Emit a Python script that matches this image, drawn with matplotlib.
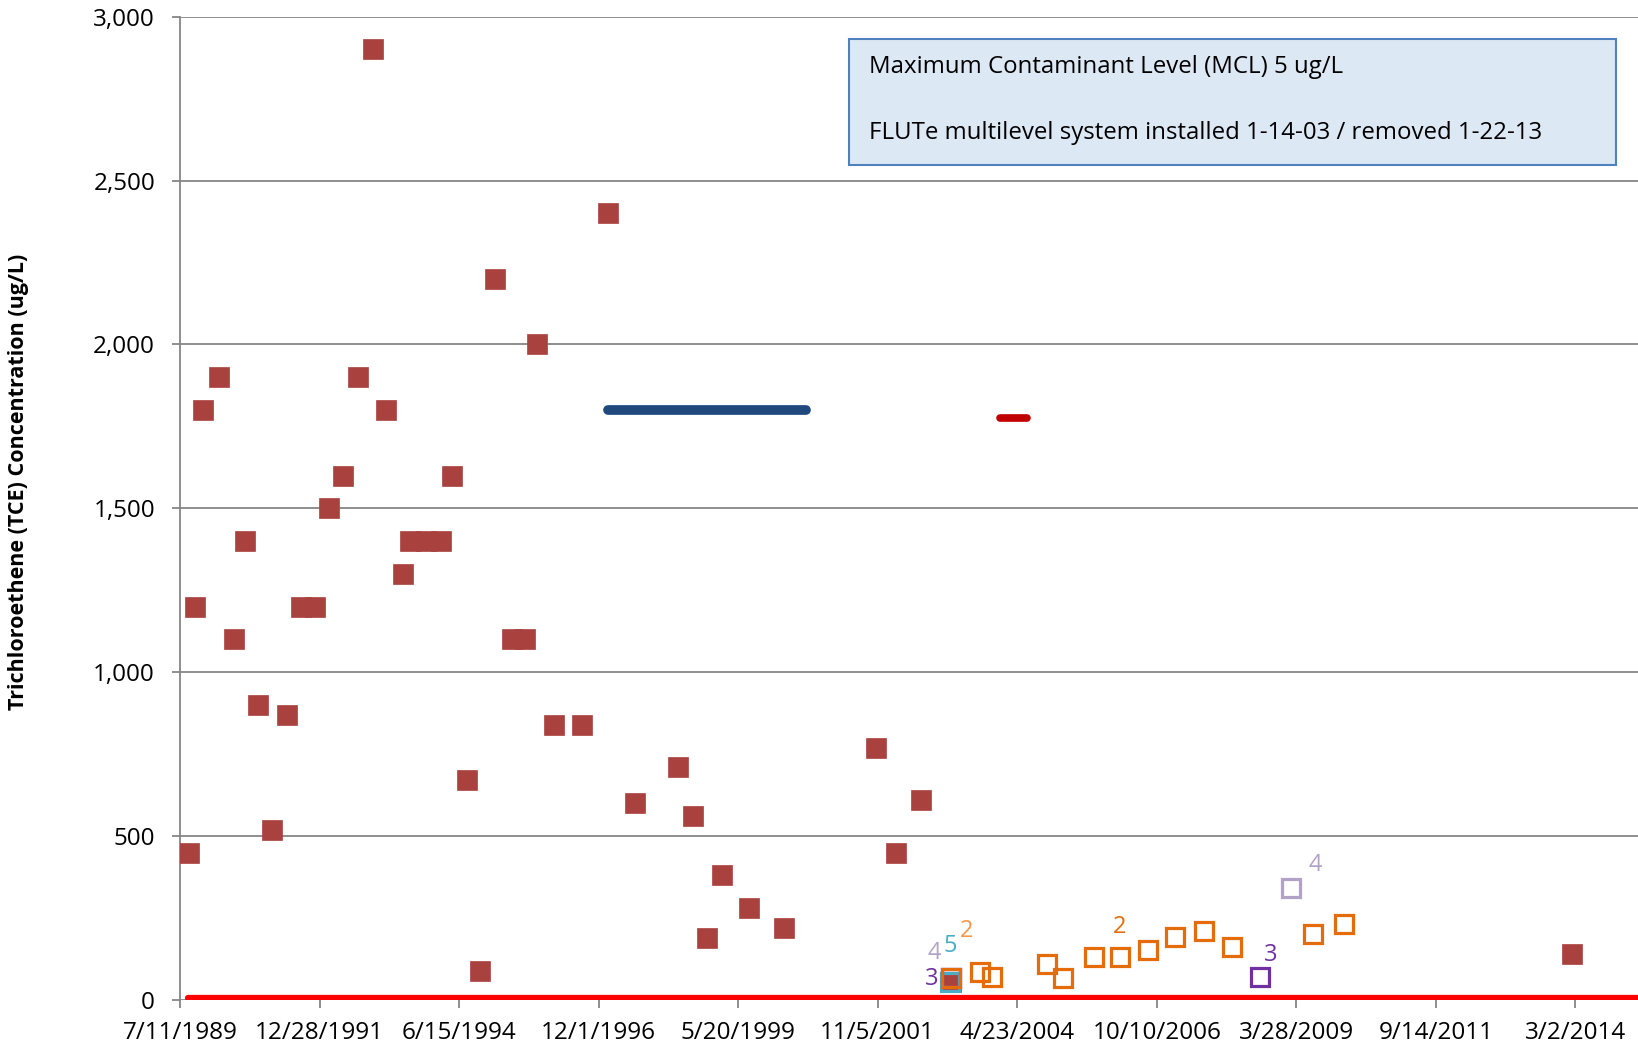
import pandas as pd
import matplotlib
matplotlib.use('Agg')
import matplotlib.pyplot as plt
import matplotlib.dates as mdates
from matplotlib.patches import Rectangle
from matplotlib.ticker import FuncFormatter

plt.rcParams['font.family'] = ['Open Sans', 'DejaVu Sans']

# TCE samples (filled squares)
tce_dates = ['1989-09-05', '1989-10-15', '1989-12-08', '1990-03-20', '1990-06-22', '1990-09-04',
             '1990-11-24', '1991-02-26', '1991-06-01', '1991-08-28', '1991-11-30', '1992-02-26',
             '1992-05-30', '1992-09-02', '1992-12-05', '1993-03-03', '1993-06-18', '1993-08-05',
             '1993-11-14', '1994-02-16', '1994-05-01', '1994-08-04', '1994-10-31', '1995-02-02',
             '1995-05-21', '1995-08-17', '1995-10-30', '1996-02-15', '1996-08-15', '1997-01-30',
             '1997-07-25', '1998-04-27', '1998-07-31', '1998-11-02', '1999-02-04', '1999-07-30',
             '2000-03-08', '2001-10-23', '2002-02-28', '2002-08-09', '2003-02-21', '2014-02-08']
tce_values = [450, 1200, 1800, 1900, 1100, 1400,
              900, 520, 870, 1200, 1200, 1500,
              1600, 1900, 2900, 1800, 1300, 1400,
              1400, 1400, 1600, 670, 90, 2200,
              1100, 1100, 2000, 840, 840, 2400,
              600, 710, 560, 190, 380, 280,
              220, 770, 450, 610, 55, 140]

# FLUTe ports (open squares)
port2_dates = ['2003-02-21', '2003-08-27', '2003-11-15', '2004-11-04', '2005-02-15', '2005-08-30',
               '2006-02-13', '2006-08-13', '2007-02-06', '2007-08-08', '2008-02-05', '2009-07-16',
               '2010-02-01']
port2_values = [68, 86, 69, 111, 67, 131, 131, 152, 191, 211, 162, 200, 231]
port3_dates = ['2003-02-21', '2008-08-05']
port3_values = [67, 69]
port4_dates = ['2003-02-21', '2009-02-24']
port4_values = [67, 341]
port5_dates = ['2003-02-15']
port5_values = [56]

# horizontal segments
blue_dates = ['1997-01-30', '2000-07-30']
blue_values = [1800, 1800]
dred_dates = ['2004-01-05', '2004-06-26']
dred_values = [1775, 1775]
mcl_dates = ['1989-08-29', '2015-04-10']
mcl_values = [5, 5]

tick_start = '1989-07-11'
x_max = '2015-04-10'
y_ticks = [0, 500, 1000, 1500, 2000, 2500, 3000]

fig = plt.figure(figsize=(16.38, 10.54), dpi=100)
ax = fig.add_axes([0.1099, 0.0512, 0.8901, 0.933])

d = pd.to_datetime
ax.plot(d(mcl_dates), mcl_values, color='#ff0000', lw=4.5, solid_capstyle='round', zorder=3)
ax.plot(d(blue_dates), blue_values, color='#1f497d', lw=7, solid_capstyle='round', zorder=3)
ax.plot(d(dred_dates), dred_values, color='#c00000', lw=5.5, solid_capstyle='round', zorder=3)

ax.plot(d(tce_dates), tce_values, 's', ms=14.5, color='#a9423f', mec='#a9423f', mew=0.5, zorder=4)

open_kw = dict(marker='s', ls='none', ms=13, mew=2.3, mfc='none', zorder=5)
ax.plot(d(port5_dates), port5_values, mec='#4bacc6', **open_kw)
ax.plot(d(port4_dates), port4_values, mec='#b3a2c7', **open_kw)
ax.plot(d(port3_dates), port3_values, mec='#7030a0', **open_kw)
ax.plot(d(port2_dates), port2_values, mec='#e46c0a', **open_kw)

# port labels
lab_kw = dict(textcoords='offset points', ha='center', va='center', fontsize=17, zorder=6)
ax.annotate('3', (d(port3_dates[0]), port3_values[0]), xytext=(-14, -1), color='#7030a0', **lab_kw)
ax.annotate('4', (d(port4_dates[0]), port4_values[0]), xytext=(-12, 18), color='#b3a2c7', **lab_kw)
ax.annotate('5', (d(port5_dates[0]), port5_values[0]), xytext=(0, 26), color='#4bacc6', **lab_kw)
ax.annotate('2', (d(port2_dates[0]), port2_values[0]), xytext=(11, 34), color='#f79646', **lab_kw)
ax.annotate('2', (d(port2_dates[6]), port2_values[6]), xytext=(0, 22), color='#e46c0a', **lab_kw)
ax.annotate('3', (d(port3_dates[1]), port3_values[1]), xytext=(8, 16), color='#7030a0', **lab_kw)
ax.annotate('4', (d(port4_dates[1]), port4_values[1]), xytext=(17, 17), color='#b3a2c7', **lab_kw)

# axes
ax.set_ylim(0, 3000)
ax.set_xlim(d(tick_start), d(x_max))
ax.set_yticks(y_ticks)
ax.yaxis.set_major_formatter(FuncFormatter(lambda v, p: f'{int(v):,}'))
ax.set_xticks(pd.date_range(tick_start, periods=11, freq='900D'))
ax.xaxis.set_major_formatter(mdates.DateFormatter('%-m/%-d/%Y'))
ax.grid(axis='y', color='#868686', lw=1.3, zorder=0)
ax.set_axisbelow(True)
for s in ['top', 'right', 'bottom']:
    ax.spines[s].set_visible(False)
ax.spines['left'].set_color('#868686')
ax.spines['left'].set_linewidth(1.3)
ax.tick_params(axis='both', colors='#868686', labelcolor='black', length=6, width=1.3, labelsize=17.5)
ax.tick_params(axis='x', pad=9)
ax.tick_params(axis='y', pad=12)

ax.set_ylabel('Trichloroethene (TCE) Concentration (ug/L)', fontsize=15.5, fontweight='bold', va='center')
ax.yaxis.set_label_coords(-0.111, 0.527)

# note box
ax.add_patch(Rectangle((0.4588, 0.8492), 0.5262, 0.1284, transform=ax.transAxes,
                       facecolor='#dde8f5', edgecolor='#4f81bd', lw=1.5, zorder=6))
ax.text(0.4726, 0.9491, 'Maximum Contaminant Level (MCL) 5 ug/L', transform=ax.transAxes,
        fontsize=17.3, va='center', ha='left', zorder=7)
ax.text(0.4726, 0.8817, 'FLUTe multilevel system installed 1-14-03 / removed 1-22-13',
        transform=ax.transAxes, fontsize=17.3, va='center', ha='left', zorder=7)

fig.savefig('out.png', dpi=100)
